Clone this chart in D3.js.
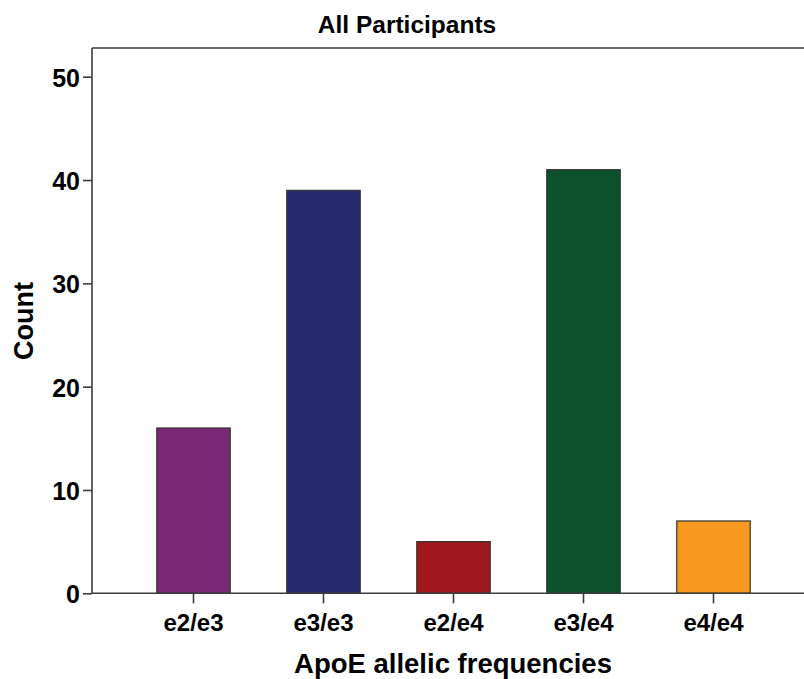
<!DOCTYPE html>
<html>
<head>
<meta charset="utf-8">
<script src="https://cdn.jsdelivr.net/npm/d3@7"></script>
<style>
  html, body { margin: 0; padding: 0; background: #fff; }
  svg { display: block; }
  text { font-family: "Liberation Sans", Arial, sans-serif; font-weight: bold; fill: #000; }
</style>
</head>
<body>
<svg id="chart" width="804" height="679"></svg>
<script>
const categories = ["e2/e3", "e3/e3", "e2/e4", "e3/e4", "e4/e4"];
const counts = [16, 39, 5, 41, 7];
const barColors = ["#7b2876", "#272a6e", "#a0181d", "#0b512c", "#f7991f"];
const yTicks = [0, 10, 20, 30, 40, 50];
const chartTitle = "All Participants";
const xTitle = "ApoE allelic frequencies";
const yTitle = "Count";

(function () {
const svg = d3.select("#chart");
const axisColor = "#3c3c3c";
const plotLeft = 92, plotRight = 804, plotTop = 48, plotBottom = 593.3;

const x = d3.scaleBand().domain(categories).range([128.5, 778.5])
  .paddingInner(0.435).paddingOuter(0.2175);
const y = d3.scaleLinear().domain([0, 50]).range([plotBottom, 76.7]);

// bars
svg.append("g").selectAll("rect").data(categories).join("rect")
  .attr("x", d => x(d))
  .attr("y", (d, i) => y(counts[i]))
  .attr("width", x.bandwidth())
  .attr("height", (d, i) => y(0) - y(counts[i]))
  .attr("fill", (d, i) => barColors[i])
  .attr("stroke", "#333")
  .attr("stroke-width", 1.2);

// top border
svg.append("line").attr("x1", plotLeft).attr("x2", plotRight).attr("y1", plotTop).attr("y2", plotTop)
  .attr("stroke", axisColor).attr("stroke-width", 1.6);

// y axis
const yAxis = svg.append("g").attr("transform", `translate(${plotLeft},0)`)
  .call(d3.axisLeft(y).tickValues(yTicks).tickSize(9).tickPadding(3).tickSizeOuter(0));
yAxis.select(".domain").remove();
yAxis.append("line").attr("x1", 0).attr("x2", 0).attr("y1", plotTop).attr("y2", plotBottom)
  .attr("stroke", axisColor).attr("stroke-width", 1.6);
yAxis.selectAll(".tick line").attr("stroke", axisColor).attr("stroke-width", 1.6);
yAxis.selectAll(".tick text").attr("font-size", 25).attr("font-family", "'Liberation Sans', Arial, sans-serif")
  .attr("font-weight", "bold").attr("fill", "#000").attr("dy", "0.38em");

// x axis
const xAxis = svg.append("g").attr("transform", `translate(0,${plotBottom})`)
  .call(d3.axisBottom(x).tickSize(10).tickPadding(11).tickSizeOuter(0));
xAxis.select(".domain").remove();
xAxis.append("line").attr("x1", plotLeft).attr("x2", plotRight).attr("y1", 0).attr("y2", 0)
  .attr("stroke", axisColor).attr("stroke-width", 1.6);
xAxis.selectAll(".tick line").attr("stroke", axisColor).attr("stroke-width", 1.6);
xAxis.selectAll(".tick text").attr("font-size", 24).attr("font-family", "'Liberation Sans', Arial, sans-serif")
  .attr("font-weight", "bold").attr("fill", "#000");

// titles
svg.append("text").attr("x", 407).attr("y", 33).attr("text-anchor", "middle")
  .attr("font-size", 24.5).text(chartTitle);
svg.append("text").attr("x", 453).attr("y", 673).attr("text-anchor", "middle")
  .attr("font-size", 27.5).text(xTitle);
svg.append("text").attr("transform", "translate(33,321) rotate(-90)").attr("text-anchor", "middle")
  .attr("font-size", 27).text(yTitle);
})();
</script>
</body>
</html>
